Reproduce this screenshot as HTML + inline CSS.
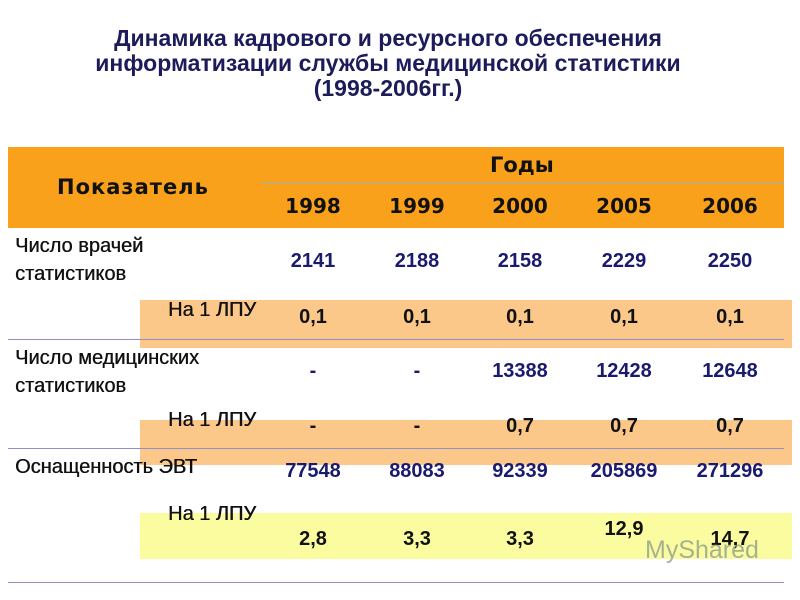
<!DOCTYPE html>
<html><head><meta charset="utf-8"><style>
body{margin:0;width:800px;height:600px;background:#fff;position:relative;overflow:hidden;font-family:"Liberation Sans","DejaVu Sans",sans-serif}
.a{position:absolute;white-space:nowrap}
.t{left:0;width:776px;text-align:center;font-weight:bold;font-size:23px;color:#1c1c5a;line-height:25px}
.lab{font-size:20px;color:#111;line-height:28px;text-shadow:0.4px 0 0 #111}
.v{width:90px;text-align:center;font-size:20px;font-weight:bold;transform:translateX(-45px)}
.blue{color:#1a1a6e}.blk{color:#111}
.yr{width:90px;text-align:center;font-size:20px;font-weight:bold;font-family:"DejaVu Sans",sans-serif;color:#111;transform:translateX(-45px)}
.line{height:1px;background:#9090c8}
</style></head><body>
<div class="a t" style="top:26px">Динамика кадрового и ресурсного обеспечения<br>информатизации службы медицинской статистики<br>(1998-2006гг.)</div>
<div class="a" style="left:8px;top:147px;width:776px;height:81px;background:#f9a11b"></div>
<div class="a" style="left:262px;top:182px;width:522px;height:2px;background:#c9a96a"></div>
<div class="a" style="left:57px;top:175px;font-size:21px;letter-spacing:1px;font-weight:bold;font-family:'DejaVu Sans',sans-serif;color:#111">Показатель</div>
<div class="a" style="left:490px;top:153px;font-size:21px;font-weight:bold;font-family:'DejaVu Sans',sans-serif;color:#111">Годы</div>
<div class="a" style="left:140px;top:300px;width:652px;height:48px;background:#fbc88a"></div>
<div class="a" style="left:140px;top:420px;width:652px;height:45px;background:#fbc88a"></div>
<div class="a" style="left:140px;top:513px;width:652px;height:46px;background:#fbfca0"></div>
<div class="a line" style="left:8px;top:339px;width:776px"></div>
<div class="a line" style="left:8px;top:448px;width:776px"></div>
<div class="a line" style="left:8px;top:582px;width:776px"></div>
<div class="a lab" style="left:15px;top:232px">Число врачей<br>статистиков</div>
<div class="a lab" style="left:168px;top:296px">На 1 ЛПУ</div>
<div class="a lab" style="left:15px;top:344px">Число медицинских<br>статистиков</div>
<div class="a lab" style="left:168px;top:406px">На 1 ЛПУ</div>
<div class="a lab" style="left:15px;top:453px">Оснащенность ЭВТ</div>
<div class="a lab" style="left:168px;top:500px">На 1 ЛПУ</div>
<div id="cells"></div>
<div class="a" style="left:645px;top:536px;font-size:25px;color:#8a9a8a;opacity:.75">MyShared</div>
<script>
const years=["1998","1999","2000","2005","2006"];
const doctors=["2141","2188","2158","2229","2250"];
const doctorsPer=["0,1","0,1","0,1","0,1","0,1"];
const medStat=["-","-","13388","12428","12648"];
const medStatPer=["-","-","0,7","0,7","0,7"];
const computers=["77548","88083","92339","205869","271296"];
const computersPer=["2,8","3,3","3,3","12,9","14,7"];
const cx=[313,417,520,624,730];
const c=document.getElementById('cells');
function put(arr,top,cls,name,tops){arr.forEach((v,i)=>{const d=document.createElement('div');d.className='a '+cls;d.style.left=cx[i]+'px';d.style.top=(tops?tops[i]:top)+'px';d.textContent=v;


c.appendChild(d);});}
put(years,194,'yr','year-header');
put(doctors,250,'v blue','doctors');
put(doctorsPer,306,'v blk','doctors-per-lpu');
put(medStat,360,'v blue','med-stat');
put(medStatPer,415,'v blk','med-stat-per-lpu');
put(computers,460,'v blue','computers');
put(computersPer,0,'v blk','computers-per-lpu',[528,528,528,518,528]);
</script>
</body></html>
